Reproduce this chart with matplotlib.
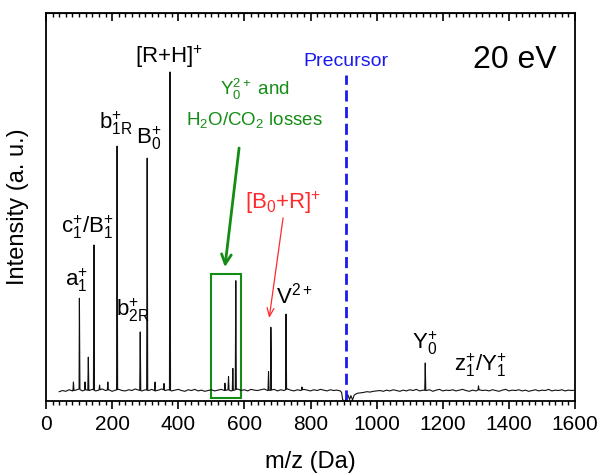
import numpy as np
import matplotlib
matplotlib.use('Agg')
import matplotlib.pyplot as plt
from matplotlib.patches import Rectangle
from matplotlib.ticker import MultipleLocator

plt.rcParams['font.family'] = 'Liberation Sans'
plt.rcParams['mathtext.fontset'] = 'custom'
plt.rcParams['mathtext.rm'] = 'Liberation Sans'
plt.rcParams['mathtext.it'] = 'Liberation Sans'

# DATA

# peak positions (m/z) and tip heights (a. u., 0..1 of the frame)
peak_mz = [83, 101, 118, 128, 145, 162, 187, 215, 285, 306, 330, 357, 375,
           541, 552, 565, 574, 673, 680, 726, 774, 1147, 1308]
peak_int = [0.049, 0.265, 0.049, 0.113, 0.402, 0.041, 0.049, 0.657, 0.178,
            0.626, 0.049, 0.045, 0.848, 0.046, 0.063, 0.084, 0.310, 0.076,
            0.190, 0.224, 0.036, 0.098, 0.039]

# baseline below the precursor, sampled every 10 Da from 40 to 880
base_low = [0.024, 0.027, 0.025, 0.029, 0.026, 0.028, 0.031, 0.026, 0.029, 0.027,
            0.030, 0.026, 0.028, 0.031, 0.027, 0.029, 0.025, 0.028, 0.030, 0.027,
            0.026, 0.029, 0.027, 0.031, 0.028, 0.026, 0.029, 0.027, 0.030, 0.026,
            0.028, 0.031, 0.027, 0.029, 0.026, 0.028, 0.030, 0.027, 0.025, 0.029,
            0.027, 0.030, 0.026, 0.028, 0.025, 0.027, 0.029, 0.026, 0.028, 0.030,
            0.027, 0.029, 0.026, 0.028, 0.031, 0.027, 0.029, 0.026, 0.030, 0.028,
            0.027, 0.029, 0.031, 0.027, 0.028, 0.030, 0.026, 0.029, 0.027, 0.031,
            0.028, 0.026, 0.029, 0.027, 0.030, 0.028, 0.026, 0.029, 0.027, 0.030,
            0.028, 0.026, 0.029, 0.027, 0.028]

# dip where the precursor was isolated
dip_mz = [890, 894, 897, 901, 905, 909, 913, 918, 922, 927, 932, 937, 942]
dip_int = [0.026, 0.022, 0.004, 0.0, 0.0, 0.010, 0.016, 0.004, 0.014, 0.003,
           0.015, 0.018, 0.020]

# baseline above the precursor, sampled every 10 Da from 950 to 1600
base_high = [0.021, 0.022, 0.024, 0.023, 0.025, 0.026, 0.027, 0.025, 0.028, 0.026,
             0.029, 0.027, 0.025, 0.028, 0.026, 0.029, 0.027, 0.030, 0.026, 0.028,
             0.027, 0.029, 0.025, 0.028, 0.030, 0.026, 0.028, 0.027, 0.029, 0.026,
             0.028, 0.030, 0.027, 0.025, 0.028, 0.026, 0.029, 0.027, 0.028, 0.026,
             0.029, 0.027, 0.025, 0.028, 0.030, 0.026, 0.028, 0.027, 0.029, 0.026,
             0.028, 0.025, 0.027, 0.029, 0.026, 0.028, 0.027, 0.030, 0.026, 0.028,
             0.027, 0.029, 0.026, 0.028, 0.027, 0.028]

precursor_mz = 906
box_range = (500, 590)

base_mz = list(np.arange(40, 890, 10)) + dip_mz + list(np.arange(950, 1610, 10))
base_int = base_low + dip_int + base_high

# build the trace: baseline with narrow spikes on top
w = 1.6
mz = list(base_mz)
it = list(base_int)
for p, h in zip(peak_mz, peak_int):
    b0 = np.interp(p - w, base_mz, base_int)
    b1 = np.interp(p + w, base_mz, base_int)
    mz += [p - w, p, p + w]
    it += [b0, h, b1]
order = np.argsort(mz)
mz = np.array(mz)[order]
it = np.array(it)[order]

# PLOTTING

fig = plt.figure(figsize=(5.99, 4.74), dpi=100)
ax = fig.add_axes([0.0768, 0.154, 0.8832, 0.8186])

ax.plot(mz, it, color='#111111', lw=0.8)

ax.set_xlim(0, 1600)
ax.set_ylim(0, 1)
ax.xaxis.set_major_locator(MultipleLocator(200))
ax.xaxis.set_minor_locator(MultipleLocator(20))
ax.tick_params(axis='x', which='major', direction='out', length=6, width=1.2,
               labelsize=15, pad=4)
ax.tick_params(axis='x', which='minor', direction='out', length=3, width=1)
ax.set_yticks([])
for s in ax.spines.values():
    s.set_linewidth(1.3)

# mirrored inward ticks on top
top = ax.secondary_xaxis('top')
top.xaxis.set_major_locator(MultipleLocator(200))
top.xaxis.set_minor_locator(MultipleLocator(20))
top.tick_params(which='major', direction='in', length=6, width=1.2, labeltop=False)
top.tick_params(which='minor', direction='in', length=3, width=1)

ax.set_xlabel('m/z (Da)', fontsize=17, labelpad=12)
ax.set_ylabel('Intensity (a. u.)', fontsize=17, labelpad=12)

# peak labels
fs = 16
ax.text(91, 0.312, r'$\mathregular{a_1^{+}}$', fontsize=fs, ha='center', va='center')
ax.text(124, 0.448, r'$\mathregular{c_1^{+}/B_1^{+}}$', fontsize=fs,
        ha='center', va='center')
ax.text(212, 0.716, r'$\mathregular{b_{1R}^{+}}$', fontsize=fs, ha='center', va='center')
ax.text(309, 0.678, r'$\mathregular{B_0^{+}}$', fontsize=fs, ha='center', va='center')
ax.text(263, 0.235, r'$\mathregular{b_{2R}^{+}}$', fontsize=fs, ha='center', va='center')
ax.text(372, 0.887, r'$\mathregular{[R{+}H]^{+}}$', fontsize=fs, ha='center', va='center')
ax.text(752, 0.272, r'$\mathregular{V^{2+}}$', fontsize=fs, ha='center', va='center')
ax.text(1146, 0.149, r'$\mathregular{Y_0^{+}}$', fontsize=fs, ha='center', va='center')
ax.text(1312, 0.093, r'$\mathregular{z_1^{+}/Y_1^{+}}$', fontsize=fs,
        ha='center', va='center')

green = '#158c15'
ax.text(632, 0.802, r'$\mathregular{Y_0^{2+}}$ and', fontsize=13.5, color=green,
        ha='center', va='center')
ax.text(632, 0.724, r'$\mathregular{H_2O/CO_2}$ losses', fontsize=13.5, color=green,
        ha='center', va='center')
ax.annotate('', xy=(541, 0.345), xytext=(584, 0.652),
            arrowprops=dict(arrowstyle='->,head_length=0.7,head_width=0.35',
                            color=green, lw=2, shrinkA=0, shrinkB=0))
ax.add_patch(Rectangle((box_range[0], 0.008), box_range[1] - box_range[0], 0.319,
                       fill=False, edgecolor=green, lw=1.5, clip_on=False))

red = '#ff2a2a'
ax.text(717, 0.510, r'$\mathregular{[B_0{+}R]^{+}}$', fontsize=fs, color=red,
        ha='center', va='center')
ax.annotate('', xy=(675, 0.214), xytext=(717, 0.472),
            arrowprops=dict(arrowstyle='->,head_length=0.6,head_width=0.25',
                            color=red, lw=0.9, shrinkA=0, shrinkB=0))

blue = '#1a1aee'
ax.plot([precursor_mz, precursor_mz], [0, 0.84], color=blue, lw=2,
        dashes=(4, 2), clip_on=False)
ax.text(precursor_mz, 0.874, 'Precursor', fontsize=14, color=blue,
        ha='center', va='center')

ax.text(1419, 0.879, '20 eV', fontsize=23, ha='center', va='center')

fig.savefig('out.png', dpi=100)
